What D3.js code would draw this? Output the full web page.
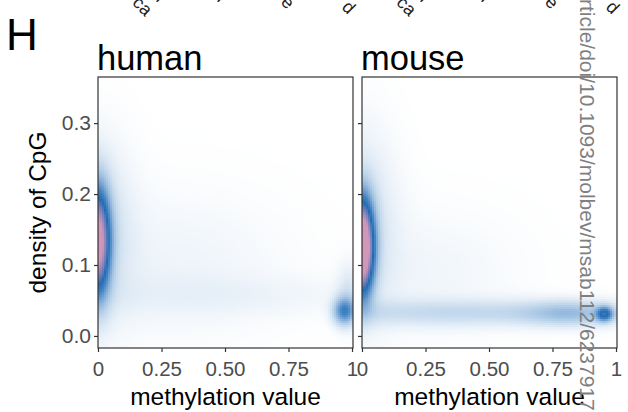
<!DOCTYPE html>
<html>
<head>
<meta charset="utf-8">
<script src="https://cdn.jsdelivr.net/npm/d3@7"></script>
<style>
  html, body { margin: 0; padding: 0; background: #ffffff; }
  svg { display: block; }
  text { font-family: "Liberation Sans", Arial, Helvetica, sans-serif; }
</style>
</head>
<body>
<svg id="chart" width="628" height="412"></svg>
<script>
// ---- data ----------------------------------------------------------------
const species = ["human", "mouse"];
const xTicks = [0, 0.25, 0.5, 0.75, 1];
const xTickLabels = ["0", "0.25", "0.50", "0.75", "1"];
const yTicks = [0, 0.1, 0.2, 0.3];
const yTickLabels = ["0.0", "0.1", "0.2", "0.3"];
const yDomain = [-0.017, 0.365];

// 2-D density peaks: [methylation, CpG density, spread x, spread y, peak height]
const humanPeaks = [
  [0.00, 0.134, 0.032, 0.050, 1.00],
  [0.00, 0.150, 0.090, 0.080, 0.13],
  [0.30, 0.100, 0.300, 0.070, 0.04],
  [0.50, 0.058, 0.450, 0.020, 0.035],
  [0.970, 0.036, 0.030, 0.013, 0.42],
  [0.985, 0.060, 0.030, 0.030, 0.09]
];
const mousePeaks = [
  [0.00, 0.112, 0.031, 0.040, 0.88],
  [0.00, 0.150, 0.032, 0.040, 0.55],
  [0.00, 0.160, 0.090, 0.085, 0.12],
  [0.25, 0.090, 0.250, 0.060, 0.035],
  [0.45, 0.034, 0.450, 0.013, 0.14],
  [0.82, 0.033, 0.120, 0.012, 0.17],
  [0.955, 0.032, 0.022, 0.007, 0.50]
];
const peaksBySpecies = { human: humanPeaks, mouse: mousePeaks };

// tails of rotated category labels from the strip above
const upperLabelTails = ["ca", "n", "n", "e", "d"];
const sourceNote = "rticle/doi/10.1093/molbev/msab112/6237917";

// ---- layout --------------------------------------------------------------
const svg = d3.select("#chart");
const panelTop = 77, panelBottom = 348, panelWidth = 255;
const panelLefts = [98, 362];

const y = d3.scaleLinear().domain(yDomain).range([panelBottom, panelTop]);

const fill = d3.scaleLinear()
  .domain([0, 0.05, 0.22, 0.45, 0.6, 0.8, 1])
  .range(["#ffffff", "#ebf2f9", "#aac9e5", "#4286c4", "#1f6bb2", "#8a82b9", "#d197b8"])
  .interpolate(d3.interpolateLab)
  .clamp(true);

const nx = 128, ny = 136;
const defs = svg.append("defs");

function densityAt(peaks, mx, cy) {
  let s = 0;
  for (const [px, py, sx, sy, h] of peaks) {
    const dx = (mx - px) / sx, dy = (cy - py) / sy;
    s += h * Math.exp(-0.5 * (dx * dx + dy * dy));
  }
  return s;
}

species.forEach((sp, i) => {
  const left = panelLefts[i];
  const x = d3.scaleLinear().domain([0, 1]).range([left, left + panelWidth - 1]);
  const peaks = peaksBySpecies[sp];

  // density grid
  const cells = [];
  const cw = 1 / nx, ch = (yDomain[1] - yDomain[0]) / ny;
  for (let a = 0; a < nx; a++) {
    for (let b = 0; b < ny; b++) {
      const mx = (a + 0.5) * cw;
      const cy = yDomain[0] + (b + 0.5) * ch;
      cells.push({ x0: a * cw, y0: yDomain[0] + b * ch, v: densityAt(peaks, mx, cy) });
    }
  }

  defs.append("clipPath").attr("id", "clip-" + sp)
    .append("rect")
    .attr("x", left).attr("y", panelTop)
    .attr("width", panelWidth).attr("height", panelBottom - panelTop);

  const g = svg.append("g").attr("clip-path", `url(#clip-${sp})`);
  g.selectAll("rect")
    .data(cells)
    .join("rect")
    .attr("x", d => x(d.x0))
    .attr("y", d => y(d.y0 + ch))
    .attr("width", x(cw) - x(0) + 0.6)
    .attr("height", y(0) - y(ch) + 0.6)
    .attr("fill", d => fill(d.v))
    .attr("shape-rendering", "crispEdges");

  // panel border
  svg.append("rect")
    .attr("x", left).attr("y", panelTop)
    .attr("width", panelWidth).attr("height", panelBottom - panelTop)
    .attr("fill", "none").attr("stroke", "#333333").attr("stroke-width", 1.2);

  // y axis
  const ya = svg.append("g").attr("transform", `translate(${left},0)`)
    .call(d3.axisLeft(y).tickValues(yTicks).tickSize(4).tickPadding(3)
      .tickFormat((d, k) => i === 0 ? yTickLabels[k] : ""));
  ya.select(".domain").remove();
  ya.selectAll(".tick line").attr("stroke", "#333333").attr("stroke-width", 1.2);
  ya.selectAll(".tick text").attr("fill", "#4d4d4d").style("font-size", "21px");

  // x axis
  const xa = svg.append("g").attr("transform", `translate(0,${panelBottom})`)
    .call(d3.axisBottom(x).tickValues(xTicks).tickSize(4).tickPadding(9)
      .tickFormat((d, k) => xTickLabels[k]));
  xa.select(".domain").remove();
  xa.selectAll(".tick line").attr("stroke", "#333333").attr("stroke-width", 1.2);
  xa.selectAll(".tick text").attr("fill", "#4d4d4d").style("font-size", "20.5px");

  // x axis title
  svg.append("text")
    .attr("x", left + panelWidth / 2).attr("y", 405)
    .attr("text-anchor", "middle")
    .style("font-size", "24.5px").attr("fill", "#000")
    .text("methylation value");

  // facet title
  svg.append("text")
    .attr("x", left - 1).attr("y", 70)
    .style("font-size", "34.5px").attr("fill", "#000")
    .text(sp);
});

// y axis title
svg.append("text")
  .attr("transform", `translate(46,${(panelTop + panelBottom) / 2}) rotate(-90)`)
  .attr("text-anchor", "middle")
  .style("font-size", "24.5px").attr("fill", "#000")
  .text("density of CpG");

// panel tag
svg.append("text")
  .attr("x", 6).attr("y", 50)
  .style("font-size", "44px").attr("fill", "#000")
  .text("H");

// rotated label tails along the top edge
const tailOffsets = [[47, 17], [60, 3], [121, 3], [189, 10], [250, 15]];
panelLefts.forEach(left => {
  upperLabelTails.forEach((t, k) => {
    const [dx, yy] = tailOffsets[k];
    svg.append("text")
      .attr("transform", `translate(${left + dx},${yy}) rotate(45)`)
      .attr("text-anchor", "end")
      .style("font-size", "18px").attr("fill", "#222")
      .text(t);
  });
});

// vertical source note
svg.append("text")
  .attr("transform", "translate(580,-1) rotate(90)")
  .style("font-size", "21px").attr("fill", "#7f7f7f")
  .text(sourceNote);
</script>
</body>
</html>
